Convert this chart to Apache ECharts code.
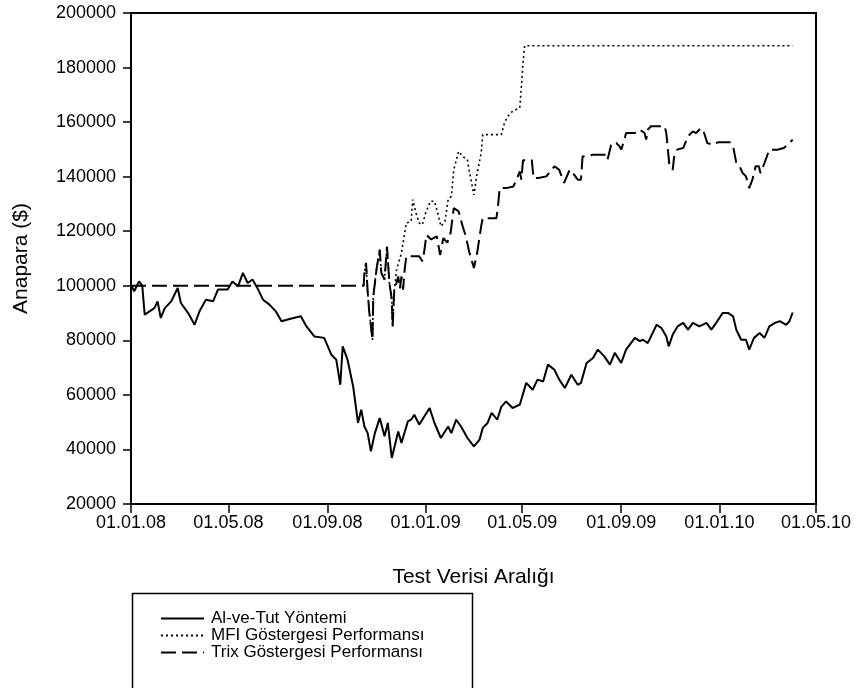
<!DOCTYPE html>
<html>
<head>
<meta charset="utf-8">
<script src="https://cdn.jsdelivr.net/npm/echarts@6/dist/echarts.min.js"></script>
<style>
  html, body { margin: 0; padding: 0; background: #fff; }
  #chart { width: 860px; height: 688px; }
</style>
</head>
<body>
<div id="chart"></div>
<script>
// Days are counted from 01.01.2008.
const startDate = '2008-01-01';
const tickDates = ['2008-01-01', '2008-05-01', '2008-09-01', '2009-01-01',
                   '2009-05-01', '2009-09-01', '2010-01-01', '2010-05-01'];
const yTicks = [20000, 200000, 20000]; // min, max, step

const seriesNames = ['Al-ve-Tut Yöntemi', 'MFI Göstergesi Performansı', 'Trix Göstergesi Performansı'];

// Buy-and-hold portfolio value
const holdDays = [0, 4, 10, 14, 17, 23, 29, 33, 37, 42, 50, 58, 62, 71, 79, 85, 93, 102, 108, 120,
  126, 133, 139, 145, 151, 158, 164, 172, 180, 187, 197, 211, 218, 228, 240, 249, 255, 260, 263, 269,
  276, 282, 286, 290, 294, 298, 303, 309, 315, 319, 324, 332, 336, 344, 348, 352, 358, 371, 377, 385,
  394, 398, 404, 410, 418, 426, 433, 437, 443, 448, 455, 460, 466, 474, 483, 491, 499, 505, 512, 518,
  526, 532, 539, 547, 555, 559, 566, 574, 580, 588, 595, 601, 609, 615, 626, 632, 636, 642, 653, 659,
  665, 668, 673, 679, 686, 692, 698, 706, 715, 721, 727, 735, 742, 748, 752, 758, 764, 768, 774, 781,
  787, 793, 800, 806, 814, 818, 822];
const holdValues = [100400, 98000, 101600, 100000, 89400, 90600, 91800, 94300, 88200, 91800, 94300, 99200, 93700, 90000, 85700, 90600, 94900, 94300, 98600, 98600,
  101600, 99800, 104700, 101000, 102300, 98600, 94900, 93100, 90600, 87000, 87800, 88800, 85100, 81400, 80900, 74700, 72900, 63700, 77800, 72900,
  63100, 49700, 54600, 48400, 46000, 39300, 46000, 51500, 44800, 49700, 36900, 46600, 42400, 50300, 50900, 52700, 49100, 55200, 49700, 44200,
  48400, 46000, 50900, 48400, 44200, 41100, 43600, 47900, 49700, 53400, 50900, 55600, 57600, 55200, 56400, 64400, 61900, 65600, 64900, 71100,
  69200, 65600, 62500, 67400, 63700, 64400, 71700, 73500, 76600, 74100, 71100, 75400, 71700, 76600, 80900, 79700, 80200, 79000, 85700, 84500,
  81400, 77800, 82100, 85100, 86400, 83900, 86400, 85100, 86400, 83900, 86400, 90000, 90000, 88800, 83900, 80200, 80200, 76600, 80900, 82700,
  80900, 85100, 86400, 87000, 85700, 87000, 90200];

// Trix indicator strategy
const trixDays = [0, 289, 290, 292, 294, 296, 300, 301, 305, 309, 311, 315, 318, 321, 324, 325, 327, 332, 334, 336,
  338, 340, 342, 358, 362, 364, 367, 373, 380, 384, 388, 393, 397, 401, 407, 412, 416, 420, 426, 430,
  435, 437, 454, 456, 458, 466, 475, 479, 483, 485, 487, 498, 500, 506, 516, 526, 532, 538, 545, 549,
  555, 559, 561, 574, 590, 592, 597, 603, 607, 609, 613, 615, 626, 632, 638, 640, 642, 646, 663, 665,
  667, 669, 673, 675, 679, 686, 692, 698, 702, 708, 712, 716, 723, 729, 744, 748, 752, 756, 760, 764,
  768, 772, 776, 780, 782, 787, 793, 803, 805, 811, 818, 822];
const trixValues = [100000, 100000, 104700, 108400, 97800, 90400, 80200, 96000, 106000, 113200, 104700, 102300, 114400, 101000, 94900, 85100, 98000, 103400, 99000, 103400,
  98600, 106000, 110800, 110800, 109000, 112000, 118700, 117000, 118100, 111300, 117500, 115800, 119300, 128500, 127300, 121800, 118100, 112600, 106500, 112000,
  121800, 124800, 124800, 129400, 135800, 135800, 136400, 138900, 141900, 138900, 146000, 146000, 139500, 139500, 140100, 143800, 142500, 137700, 142500, 141300,
  138900, 138900, 147400, 148000, 148000, 146200, 152300, 152300, 151100, 149900, 153600, 156000, 156000, 157200, 156000, 153600, 157200, 158500, 158500, 156000,
  150000, 143800, 142500, 148000, 150000, 150500, 154800, 156600, 156000, 157800, 156000, 152300, 151700, 152600, 152600, 151100, 145000, 143800, 141300, 140100,
  135800, 138900, 143800, 143800, 141300, 145000, 149900, 149900, 150500, 150500, 152300, 153600];

// MFI indicator strategy (from its first trade onward)
const mfiDays = [289, 290, 292, 294, 296, 300, 301, 305, 309, 311, 315, 318, 321, 324, 325, 327, 330, 336, 340,
  342, 348, 350, 354, 358, 362, 366, 372, 377, 381, 385, 390, 394, 398, 401, 407, 412, 418, 420, 424,
  426, 430, 435, 437, 460, 464, 468, 474, 483, 485, 487, 489, 822];
const mfiValues = [100000, 104700, 108400, 97800, 90400, 80200, 96000, 106000, 113200, 104700, 102300, 114400, 101000, 94900, 85100, 98000, 106000, 112000, 119300,
  123000, 123600, 131600, 126700, 123000, 122400, 126700, 131000, 131000, 126700, 121800, 123600, 131600, 132800, 142500, 149300, 147400, 146200, 142500, 136400,
  133300, 141300, 148600, 155400, 155400, 159700, 162100, 164000, 165200, 173100, 181700, 188000, 188000];

const DAY = 86400000;
const t0 = Date.parse(startDate);
const dayOf = s => Math.round((Date.parse(s) - t0) / DAY);
const tickDays = tickDates.map(dayOf);
const pairs = (xs, ys) => xs.map((x, i) => [x, ys[i]]);
const fmtDay = d => {
  const dt = new Date(t0 + d * DAY);
  const p = n => String(n).padStart(2, '0');
  return p(dt.getUTCDate()) + '.' + p(dt.getUTCMonth() + 1) + '.' + p(dt.getUTCFullYear() % 100);
};

const font = '"Liberation Sans", Arial, sans-serif';
const chart = echarts.init(document.getElementById('chart'), null, { renderer: 'canvas' });

chart.setOption({
  animation: false,
  backgroundColor: '#fff',
  grid: {
    left: 131, right: 44, top: 13, bottom: 184,
    show: true, borderColor: '#000', borderWidth: 2, backgroundColor: 'transparent'
  },
  xAxis: {
    type: 'value',
    min: tickDays[0], max: tickDays[tickDays.length - 1],
    name: 'Test Verisi Aralığı', nameLocation: 'middle', nameGap: 63,
    nameTextStyle: { fontFamily: font, fontSize: 21, color: '#000' },
    axisLine: { lineStyle: { color: '#000', width: 2 } },
    axisTick: { customValues: tickDays, length: 9, lineStyle: { color: '#000', width: 1.5 } },
    axisLabel: { customValues: tickDays, formatter: v => fmtDay(v), fontFamily: font, fontSize: 18, color: '#000', margin: 10 },
    splitLine: { show: false }
  },
  yAxis: {
    type: 'value',
    min: yTicks[0], max: yTicks[1], interval: yTicks[2],
    name: 'Anapara ($)', nameLocation: 'middle', nameGap: 99, nameRotate: 90,
    nameTextStyle: { fontFamily: font, fontSize: 21, color: '#000' },
    axisLine: { show: true, lineStyle: { color: '#000', width: 2 } },
    axisTick: { show: true, length: 8, lineStyle: { color: '#000', width: 1.5 } },
    axisLabel: { formatter: v => String(v), fontFamily: font, fontSize: 18, color: '#000', margin: 15 },
    splitLine: { show: false }
  },
  legend: {
    orient: 'vertical', left: 155, top: 605,
    itemWidth: 43, itemHeight: 10, itemGap: 0,
    itemStyle: { opacity: 0, borderWidth: 0 },
    textStyle: { fontFamily: font, fontSize: 17, color: '#000', lineHeight: 14, padding: [0, 0, 0, 2] },
    data: seriesNames
  },
  graphic: [{
    type: 'rect', left: 130, top: 591,
    shape: { width: 340, height: 120 },
    style: { fill: 'none', stroke: '#000', lineWidth: 1.5 }
  }],
  series: [
    {
      name: seriesNames[2], type: 'line', symbol: 'none', data: pairs(trixDays, trixValues),
      lineStyle: { color: '#000', width: 2, type: [15, 6] }, itemStyle: { color: '#000' }, z: 2
    },
    {
      name: seriesNames[1], type: 'line', symbol: 'none', data: pairs(mfiDays, mfiValues),
      lineStyle: { color: '#000', width: 1.6, type: [2, 3] }, itemStyle: { color: '#000' }, z: 3
    },
    {
      name: seriesNames[0], type: 'line', symbol: 'none', data: pairs(holdDays, holdValues),
      lineStyle: { color: '#000', width: 2 }, itemStyle: { color: '#000' }, z: 4
    }
  ]
});
</script>
</body>
</html>
